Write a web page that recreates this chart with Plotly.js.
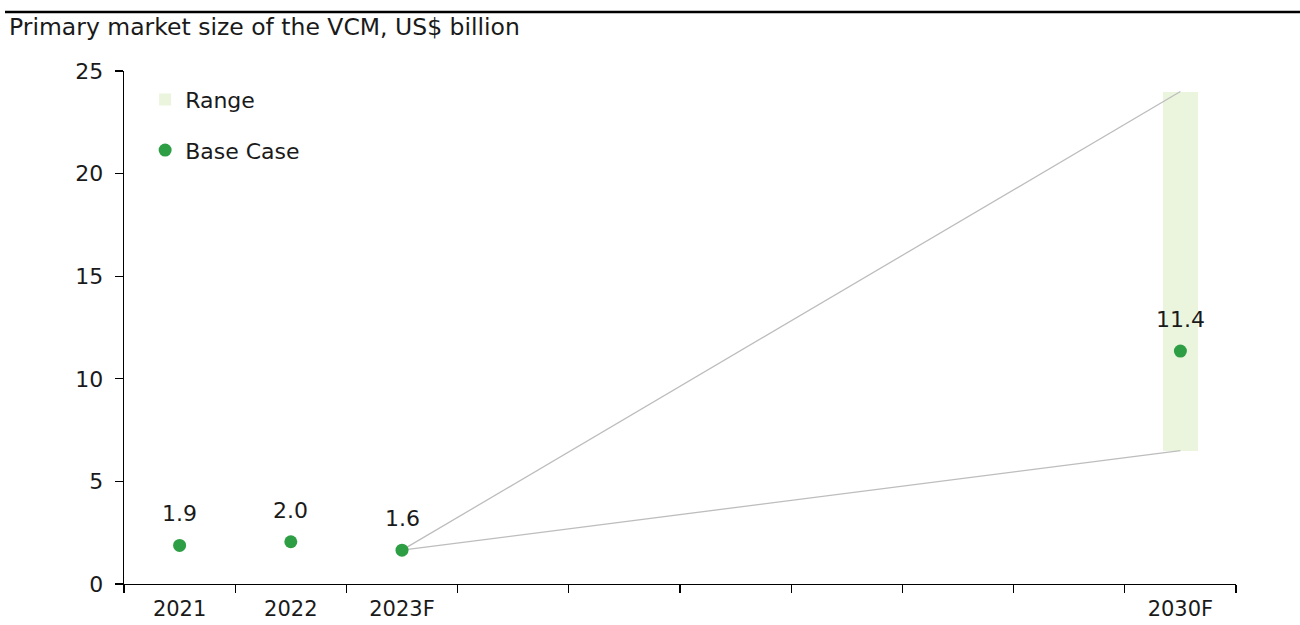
<!DOCTYPE html>
<html>
<head>
<meta charset="utf-8">
<script src="https://cdn.plot.ly/plotly-3.0.1.min.js"></script>
<style>html,body{margin:0;padding:0;background:#fff;}#chart{width:1300px;height:625px;}</style>
</head>
<body>
<div id="chart"></div>
<script>
// Data
const categories = ["2021", "2022", "2023F", " ", "  ", "   ", "    ", "     ", "      ", "2030F"];
const baseCategories = ["2021", "2022", "2023F", "2030F"];
const baseValues = [1.88, 2.06, 1.65, 11.35];
const baseLabels = ["1.9", "2.0", "1.6", "11.4"];
const rangeCategory = "2030F";
const rangeLow = 6.5;
const rangeHigh = 24.0;

const FONT = "DejaVu Sans, sans-serif";
const TXT = "#1a1a1a";
const GREEN = "#2e9e44";
const RANGE_COLOR = "#ebf5dd";

const lastIdx = baseCategories.length - 2; // 2023F, start of fan lines

const traces = [
  {
    type: "bar",
    name: "Range",
    x: [rangeCategory],
    base: [rangeLow],
    y: [rangeHigh - rangeLow],
    width: [0.32],
    marker: {color: RANGE_COLOR, line: {width: 0}},
    legendgroup: "a",
    hoverinfo: "skip"
  },
  {
    type: "scatter",
    mode: "lines",
    x: [baseCategories[lastIdx], rangeCategory],
    y: [baseValues[lastIdx], rangeHigh],
    line: {color: "#bdbdbd", width: 1.3},
    showlegend: false,
    hoverinfo: "skip"
  },
  {
    type: "scatter",
    mode: "lines",
    x: [baseCategories[lastIdx], rangeCategory],
    y: [baseValues[lastIdx], rangeLow],
    line: {color: "#bdbdbd", width: 1.3},
    showlegend: false,
    hoverinfo: "skip"
  },
  {
    type: "scatter",
    mode: "markers",
    name: "Base Case",
    x: baseCategories,
    y: baseValues,
    marker: {color: GREEN, size: 13},
    legendgroup: "b"
  }
];

const annotations = baseCategories.map((c, i) => ({
  x: categories.indexOf(c), y: baseValues[i], xref: "x", yref: "y",
  text: baseLabels[i], showarrow: false,
  yanchor: "bottom", yshift: 17,
  font: {family: FONT, size: 22, color: TXT}
}));

const layout = {
  width: 1300, height: 625,
  margin: {l: 124, r: 64, t: 71, b: 41},
  paper_bgcolor: "#fff", plot_bgcolor: "#fff",
  font: {family: FONT, size: 22, color: TXT},
  title: {
    text: "Primary market size of the VCM, US$ billion",
    font: {family: FONT, size: 23.5, color: TXT},
    xref: "container", yref: "container",
    x: 9/1300, xanchor: "left",
    y: 1 - 27/625, yanchor: "middle"
  },
  showlegend: true,
  legend: {
    x: 0.019, xanchor: "left", y: 0.985, yanchor: "top",
    traceorder: "grouped", tracegroupgap: 19,
    font: {family: FONT, size: 22, color: TXT},
    bgcolor: "rgba(0,0,0,0)"
  },
  bargap: 0,
  xaxis: {
    type: "category",
    categoryorder: "array", categoryarray: categories,
    range: [-0.5, categories.length - 0.5],
    tickson: "boundaries",
    ticks: "outside", ticklen: 8, tickwidth: 1.3, tickcolor: "#000",
    ticklabelstandoff: 5,
    showline: true, linecolor: "#000", linewidth: 1.3,
    showgrid: false, zeroline: false,
    tickfont: {family: FONT, size: 21, color: TXT},
    fixedrange: true
  },
  yaxis: {
    range: [0, 25], dtick: 5, tick0: 0,
    ticks: "outside", ticklen: 8, tickwidth: 1.3, tickcolor: "#000",
    ticklabelstandoff: 7,
    showline: true, linecolor: "#000", linewidth: 1.3,
    showgrid: false, zeroline: false,
    tickfont: {family: FONT, size: 22, color: TXT},
    fixedrange: true
  },
  shapes: [{
    type: "line", xref: "paper", yref: "paper",
    x0: (5 - 124) / 1112, x1: (1300 - 124) / 1112,
    y0: (584 - 12) / 513, y1: (584 - 12) / 513,
    line: {color: "#000", width: 2.5}
  }],
  annotations: annotations
};

Plotly.newPlot("chart", traces, layout, {displayModeBar: false, staticPlot: true});
</script>
</body>
</html>
